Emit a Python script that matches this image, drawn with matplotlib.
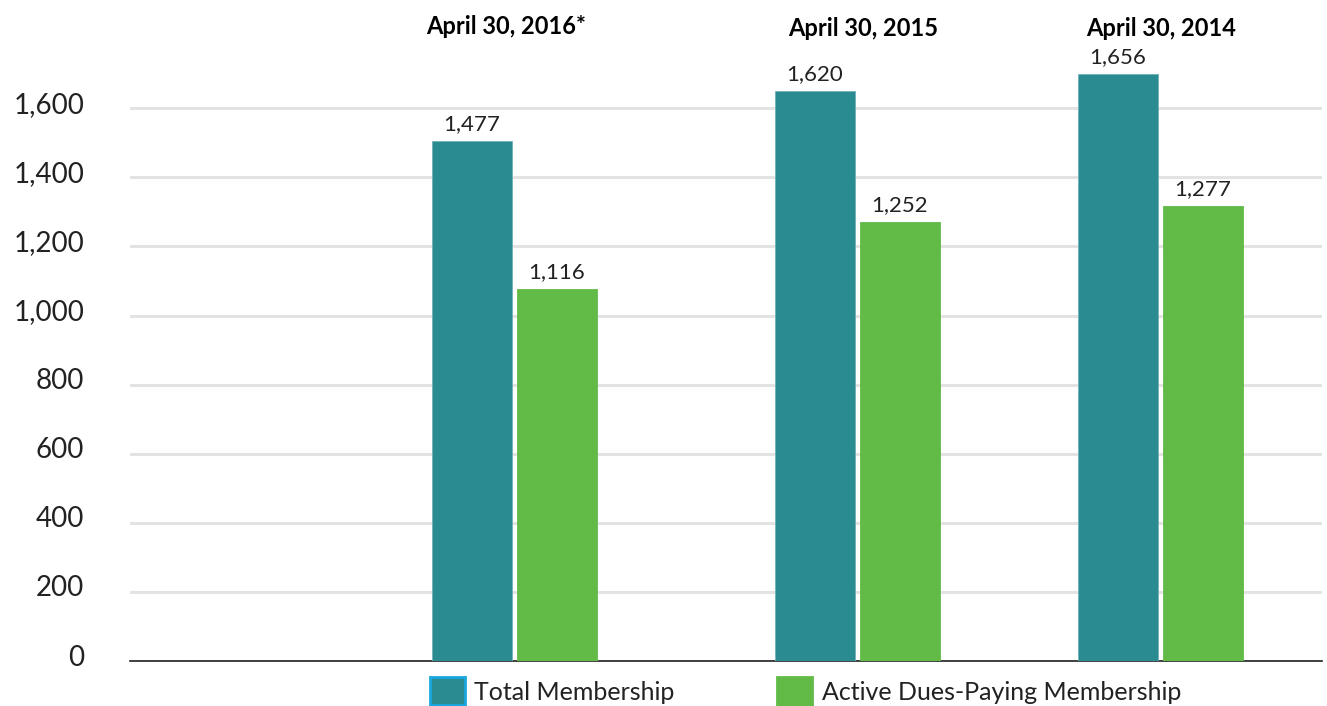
import matplotlib
matplotlib.use("Agg")
import matplotlib.pyplot as plt
from matplotlib.patches import Rectangle
import matplotlib.transforms as mtransforms

# ---- data ----
groups = ["April 30, 2016*", "April 30, 2015", "April 30, 2014"]
series_names = ["Total Membership", "Active Dues-Paying Membership"]
total_heights = [1505, 1651, 1698]      # bar heights as drawn
active_heights = [1076, 1270, 1316]
total_labels = ["1,477", "1,620", "1,656"]
active_labels = ["1,116", "1,252", "1,277"]
y_ticks = [0, 200, 400, 600, 800, 1000, 1200, 1400, 1600]
y_tick_labels = ["0", "200", "400", "600", "800", "1,000", "1,200", "1,400", "1,600"]

# ---- style / layout ----
TEAL = "#2a8b91"
GREEN = "#61bb46"
plt.rcParams['font.family'] = ['Lato', 'DejaVu Sans']

W, H = 1327, 706
fig = plt.figure(figsize=(W / 100, H / 100), dpi=100)
ax_left, ax_right, ax_bottom, ax_top = 130, 1322, 661, 0
ax = fig.add_axes([ax_left / W, (H - ax_bottom) / H, (ax_right - ax_left) / W, (ax_bottom - ax_top) / H])

px_per_unit = (661 - 108.3) / 1600.0
ax.set_ylim(0, (ax_bottom - ax_top) / px_per_unit)
ax.set_xlim(ax_left, ax_right)

group_x = [514, 857.5, 1160]
bar_w = 80
off = 42.5

tx = [g - off for g in group_x]
gx = [g + off for g in group_x]
b1 = ax.bar(tx, total_heights, width=bar_w, color=TEAL, edgecolor="#6fb3b8", linewidth=0.6, zorder=3)
b2 = ax.bar(gx, active_heights, width=bar_w, color=GREEN, edgecolor=GREEN, linewidth=0.6, zorder=3)

for rect, lab in zip(b1, total_labels):
    ax.annotate(lab, (rect.get_x() + rect.get_width() / 2, rect.get_height()),
                xytext=(0, 5), textcoords="offset points", ha="center", va="bottom",
                fontsize=16, color="#222222")
for rect, lab in zip(b2, active_labels):
    ax.annotate(lab, (rect.get_x() + rect.get_width() / 2, rect.get_height()),
                xytext=(0, 5), textcoords="offset points", ha="center", va="bottom",
                fontsize=16, color="#222222")

# group titles
title_x = [506, 863, 1161]
title_y = [26, 29, 29]
for t, x, y in zip(groups, title_x, title_y):
    fig.text(x / W, 1 - y / H, t, ha="center", va="center", fontsize=17,
             fontweight="bold", color="black")

# axes styling
ax.set_yticks(y_ticks)
ax.set_yticklabels(y_tick_labels)
ax.tick_params(axis="y", length=0, pad=33, labelsize=20, labelcolor="#222222")
ax.set_xticks([])
for s in ["top", "right", "left"]:
    ax.spines[s].set_visible(False)
ax.spines["bottom"].set_color("#222222")
ax.spines["bottom"].set_linewidth(1.2)
ax.yaxis.grid(True, color="#e3e3e3", linewidth=2.2, zorder=0)
ax.set_axisbelow(True)

# lift y tick labels slightly above grid lines
shift = mtransforms.ScaledTranslation(0, 6 / 100, fig.dpi_scale_trans)
for lab in ax.get_yticklabels():
    lab.set_transform(lab.get_transform() + shift)

# legend (manual)
leg_items = [(430, TEAL, "#1aa7e0", series_names[0], 474),
             (777, GREEN, GREEN, series_names[1], 822)]
for x0, fc, ec, name, tx0 in leg_items:
    fig.patches.append(Rectangle((x0 / W, 1 - 705 / H), 35 / W, 28 / H,
                                 transform=fig.transFigure, facecolor=fc,
                                 edgecolor=ec, linewidth=2, zorder=5))
    fig.text(tx0 / W, 1 - 692 / H, name, ha="left", va="center", fontsize=18,
             color="#222222")

fig.savefig("out.png", dpi=100)
